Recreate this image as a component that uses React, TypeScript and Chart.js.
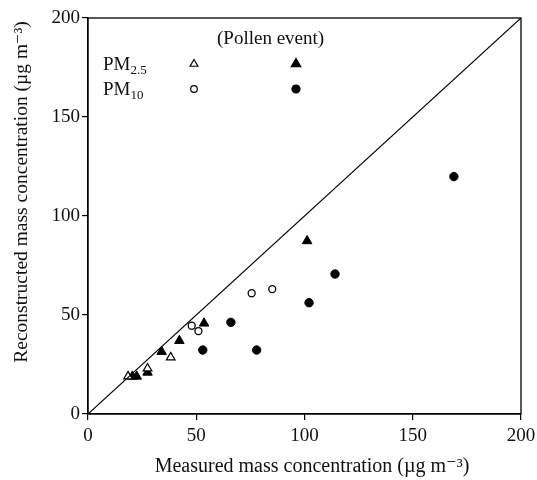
import React, { useEffect, useRef } from "react";
import { Chart, registerables } from "chart.js";

Chart.register(...registerables);

// PM2.5, normal days (open triangles)
const pm25X = [18.5, 27.5, 38.2];
const pm25Y = [19, 23, 28.6];
// PM2.5, pollen event (filled triangles)
const pm25PollenX = [20.5, 22.5, 27.5, 34, 42.2, 53.6, 101.2];
const pm25PollenY = [19, 19, 21, 31.5, 37, 45.8, 87.4];
// PM10, normal days (open circles)
const pm10X = [47.9, 51, 75.6, 85.1];
const pm10Y = [44.6, 41.9, 61, 63.1];
// PM10, pollen event (filled circles)
const pm10PollenX = [53, 66, 77.9, 102.1, 114.1, 169];
const pm10PollenY = [32.3, 46.3, 32.3, 56.2, 70.7, 119.9];
// 1:1 line
const lineX = [0, 200];
const lineY = [0, 200];

const tickValues = [0, 50, 100, 150, 200];
const xTitle = "Measured mass concentration (\u00b5g m\u207b\u00b3)";
const yTitle = "Reconstructed mass concentration (\u00b5g m\u207b\u00b3)";
const legendHeader = "(Pollen event)";
const legendRows = [
  { main: "PM", sub: "2.5", marker: "triangle" },
  { main: "PM", sub: "10", marker: "circle" },
];

const FONT = "'Liberation Serif', 'DejaVu Serif', serif";

const zip = (xs: number[], ys: number[]) => xs.map((x, i) => ({ x, y: ys[i] }));

function drawMarker(ctx: CanvasRenderingContext2D, style: string, x: number, y: number, r: number, filled: boolean) {
  ctx.beginPath();
  if (style === "triangle") {
    ctx.moveTo(x, y - r);
    ctx.lineTo(x + r * Math.sin(Math.PI / 3), y + r / 2);
    ctx.lineTo(x - r * Math.sin(Math.PI / 3), y + r / 2);
    ctx.closePath();
  } else {
    ctx.arc(x, y, r, 0, Math.PI * 2);
  }
  ctx.fillStyle = filled ? "#000" : "#fff";
  ctx.fill();
  ctx.strokeStyle = "#000";
  ctx.lineWidth = 1.2;
  ctx.stroke();
}

export default function App() {
  const ref = useRef<HTMLCanvasElement | null>(null);

  useEffect(() => {
    document.body.style.margin = "0";
    const canvas = ref.current!;

    const framePlugin = {
      id: "frame",
      afterDraw(chart: any) {
        const { ctx, chartArea: a } = chart;
        ctx.save();
        ctx.strokeStyle = "#000";
        ctx.lineWidth = 1.3;
        ctx.strokeRect(a.left, a.top, a.right - a.left, a.bottom - a.top);

        // axis titles
        ctx.fillStyle = "#111";
        ctx.textAlign = "center";
        ctx.textBaseline = "middle";
        ctx.font = `20px ${FONT}`;
        ctx.fillText(xTitle, 312, 467);
        ctx.save();
        ctx.translate(22, 192);
        ctx.rotate(-Math.PI / 2);
        ctx.font = `19.5px ${FONT}`;
        ctx.fillText(yTitle, 0, 0);
        ctx.restore();

        // legend
        ctx.textAlign = "left";
        ctx.textBaseline = "alphabetic";
        ctx.font = `19px ${FONT}`;
        ctx.fillStyle = "#111";
        ctx.fillText(legendHeader, 217, 44);
        const rowsY = [64, 89];
        legendRows.forEach((r, i) => {
          const y = rowsY[i];
          ctx.font = `19px ${FONT}`;
          ctx.fillStyle = "#111";
          ctx.fillText(r.main, 103, y + 6);
          const w = ctx.measureText(r.main).width;
          ctx.font = `13px ${FONT}`;
          ctx.fillText(r.sub, 103 + w, y + 10);
          const isTri = r.marker === "triangle";
          drawMarker(ctx, r.marker, 194, y, isTri ? 4.5 : 3.3, false);
          drawMarker(ctx, r.marker, 296, y, isTri ? 5.5 : 4, true);
        });
        ctx.restore();
      },
    };

    const chart = new Chart(canvas, {
      type: "scatter",
      data: {
        datasets: [
          {
            type: "line",
            data: zip(lineX, lineY),
            borderColor: "#000",
            borderWidth: 1.2,
            pointRadius: 0,
            showLine: true,
            fill: false,
          } as any,
          {
            data: zip(pm25X, pm25Y),
            pointStyle: "triangle",
            pointRadius: 5,
            backgroundColor: "#fff",
            borderColor: "#000",
            borderWidth: 1.2,
          },
          {
            data: zip(pm25PollenX, pm25PollenY),
            pointStyle: "triangle",
            pointRadius: 5.5,
            backgroundColor: "#000",
            borderColor: "#000",
            borderWidth: 1,
          },
          {
            data: zip(pm10X, pm10Y),
            pointStyle: "circle",
            pointRadius: 3.5,
            backgroundColor: "#fff",
            borderColor: "#000",
            borderWidth: 1.3,
          },
          {
            data: zip(pm10PollenX, pm10PollenY),
            pointStyle: "circle",
            pointRadius: 4.2,
            backgroundColor: "#000",
            borderColor: "#000",
            borderWidth: 1,
          },
        ],
      },
      options: {
        animation: false,
        responsive: false,
        devicePixelRatio: 1,
        layout: { padding: { top: 18, right: 16, left: 0, bottom: 0 } },
        plugins: { legend: { display: false }, tooltip: { enabled: false } },
        scales: {
          x: {
            type: "linear",
            min: 0,
            max: 200,
            afterBuildTicks: (s: any) => {
              s.ticks = tickValues.map((v) => ({ value: v }));
            },
            afterFit: (s: any) => {
              s.height = 66;
              s.paddingLeft = 0;
              s.paddingRight = 0;
            },
            grid: { drawOnChartArea: false, tickLength: 6, color: "#000", lineWidth: 1.2 },
            border: { color: "#000", width: 1.3 },
            ticks: { color: "#111", font: { family: FONT, size: 19 }, padding: 5, maxRotation: 0 },
          },
          y: {
            type: "linear",
            min: 0,
            max: 200,
            afterBuildTicks: (s: any) => {
              s.ticks = tickValues.map((v) => ({ value: v }));
            },
            afterFit: (s: any) => {
              s.width = 88;
              s.paddingTop = 0;
              s.paddingBottom = 0;
            },
            grid: { drawOnChartArea: false, tickLength: 6, color: "#000", lineWidth: 1.2 },
            border: { color: "#000", width: 1.3 },
            ticks: { color: "#111", font: { family: FONT, size: 19 }, padding: 2 },
          },
        },
      },
      plugins: [framePlugin],
    } as any);

    return () => chart.destroy();
  }, []);

  return <canvas ref={ref} width={537} height={480} style={{ display: "block" }} />;
}
